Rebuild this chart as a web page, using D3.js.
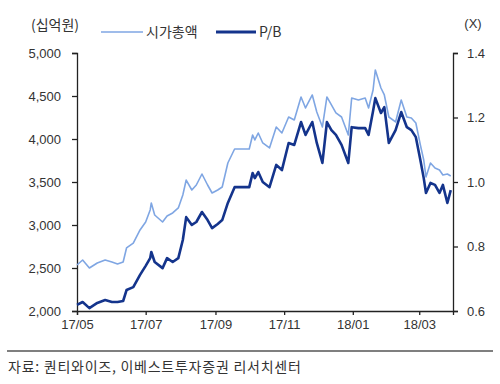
<!DOCTYPE html>
<html>
<head>
<meta charset="utf-8">
<script src="https://cdn.jsdelivr.net/npm/d3@7"></script>
<style>
  body { margin: 0; background: #fff; }
  svg text { fill: #333; }
</style>
</head>
<body>
<div id="chart"></div>
<script>

const canvas = { w: 500, h: 384 };

// data
const dates = [
  "2017-05-01","2017-05-06","2017-05-12","2017-05-19","2017-05-26","2017-06-01","2017-06-06","2017-06-11",
  "2017-06-14","2017-06-20","2017-06-26","2017-07-01","2017-07-05","2017-07-06","2017-07-09","2017-07-16",
  "2017-07-20","2017-07-25","2017-07-30","2017-08-03","2017-08-06","2017-08-11","2017-08-15","2017-08-20",
  "2017-08-25","2017-08-29","2017-09-03","2017-09-07","2017-09-12","2017-09-18","2017-09-24","2017-10-01",
  "2017-10-04","2017-10-06","2017-10-09","2017-10-13","2017-10-19","2017-10-25","2017-10-30","2017-11-05",
  "2017-11-10","2017-11-16","2017-11-20","2017-11-26","2017-11-30","2017-12-05","2017-12-09","2017-12-13",
  "2017-12-17","2017-12-22","2017-12-28","2017-12-31","2018-01-06","2018-01-12","2018-01-15","2018-01-19",
  "2018-01-21","2018-01-26","2018-01-29","2018-02-02","2018-02-08","2018-02-13","2018-02-18","2018-02-22",
  "2018-02-26","2018-03-02","2018-03-05","2018-03-07","2018-03-11","2018-03-15","2018-03-19","2018-03-22",
  "2018-03-26","2018-03-29"
];

const marketCap = [
  2535, 2593, 2500, 2558, 2593, 2570, 2547, 2570,
  2733, 2790, 2942, 3035, 3175, 3256, 3116, 3035,
  3105, 3140, 3198, 3349, 3523, 3407, 3465, 3593,
  3465, 3372, 3407, 3442, 3721, 3884, 3884, 3884,
  4047, 3989, 4070, 3954, 3896, 4140, 4070, 4256,
  4221, 4489, 4361, 4512, 4314, 4140, 4489, 4396,
  4303, 4256, 4047, 4477, 4454, 4477, 4361, 4570,
  4803, 4593, 4512, 4256, 4198, 4454, 4256, 4245,
  4186, 3931, 3756, 3558, 3721, 3663, 3640, 3582,
  3593, 3570
];

const pbRatio = [
  0.619, 0.628, 0.609, 0.625, 0.634, 0.628, 0.628, 0.631,
  0.665, 0.674, 0.712, 0.740, 0.764, 0.783, 0.752, 0.733,
  0.764, 0.752, 0.764, 0.820, 0.891, 0.867, 0.876, 0.907,
  0.882, 0.857, 0.870, 0.882, 0.935, 0.984, 0.984, 0.984,
  1.028, 1.012, 1.031, 1.000, 0.984, 1.053, 1.037, 1.121,
  1.115, 1.186, 1.146, 1.186, 1.121, 1.059, 1.186, 1.161,
  1.146, 1.115, 1.059, 1.170, 1.167, 1.167, 1.146, 1.220,
  1.260, 1.214, 1.232, 1.121, 1.161, 1.217, 1.170, 1.161,
  1.139, 1.068, 1.012, 0.966, 0.997, 0.991, 0.966, 0.991,
  0.935, 0.975
];

const leftTicks = [2000, 2500, 3000, 3500, 4000, 4500, 5000];
const rightTicks = [0.6, 0.8, 1.0, 1.2, 1.4];
const xTicks = ["2017-05-01","2017-07-01","2017-09-01","2017-11-01","2018-01-01","2018-03-01"];

const seriesNames = ["시가총액", "P/B"];
const colors = { cap: "#7fa6e3", pb: "#14348c" };

const parse = d3.timeParse("%Y-%m-%d");
const table = dates.map((d, i) => ({ date: parse(d), cap: marketCap[i], pb: pbRatio[i] }));

const plot = { left: 77, right: 453, top: 53, bottom: 311 };

const x = d3.scaleTime()
    .domain([parse("2017-05-01"), parse("2018-03-31")])
    .range([plot.left, plot.right]);

const yLeft = d3.scaleLinear().domain([2000, 5000]).range([plot.bottom, plot.top]);
const yRight = d3.scaleLinear().domain([0.6, 1.4]).range([plot.bottom, plot.top]);

const svg = d3.select("#chart")
    .append("svg")
    .attr("width", canvas.w)
    .attr("height", canvas.h)
    .attr("viewBox", `0 0 ${canvas.w} ${canvas.h}`);

const tickFont = "'Liberation Sans Narrow', 'Liberation Sans', Arial, sans-serif";
const krFont = "'Noto Sans CJK KR', 'Noto Sans', sans-serif";

// axes
const axLeft = svg.append("g")
    .attr("transform", `translate(${plot.left},0)`)
    .call(d3.axisLeft(yLeft).tickValues(leftTicks).tickSize(5).tickPadding(11).tickFormat(d3.format(",")));

const axRight = svg.append("g")
    .attr("transform", `translate(${plot.right},0)`)
    .call(d3.axisRight(yRight).tickValues(rightTicks).tickSize(5).tickPadding(9).tickFormat(d3.format(".1f")));

const axBottom = svg.append("g")
    .attr("transform", `translate(0,${plot.bottom})`)
    .call(d3.axisBottom(x).tickValues(xTicks.map(parse)).tickSize(4).tickPadding(5).tickFormat(d3.timeFormat("%y/%m")));

[axLeft, axRight, axBottom].forEach(ax => {
    ax.select(".domain").attr("stroke", "#222").attr("stroke-width", 1.3);
    ax.selectAll(".tick line").attr("stroke", "#222").attr("stroke-width", 1.3);
    ax.selectAll(".tick text")
        .attr("font-family", tickFont)
        .attr("font-size", 13)
        .attr("fill", "#333");
});

// lines
const capLine = d3.line().x(d => x(d.date)).y(d => yLeft(d.cap));
const pbLine = d3.line().x(d => x(d.date)).y(d => yRight(d.pb));

svg.append("path")
    .datum(table)
    .attr("fill", "none")
    .attr("stroke", colors.cap)
    .attr("stroke-width", 1.6)
    .attr("stroke-linejoin", "round")
    .attr("d", capLine);

svg.append("path")
    .datum(table)
    .attr("fill", "none")
    .attr("stroke", colors.pb)
    .attr("stroke-width", 2.6)
    .attr("stroke-linejoin", "round")
    .attr("d", pbLine);

// unit labels
svg.append("text")
    .attr("x", 55).attr("y", 30)
    .attr("text-anchor", "middle")
    .attr("font-family", krFont)
    .attr("font-size", 14)
    .text("(십억원)");

svg.append("text")
    .attr("x", 473).attr("y", 28)
    .attr("text-anchor", "middle")
    .attr("font-family", tickFont)
    .attr("font-size", 13)
    .text("(X)");

// legend
const legend = [
    { name: seriesNames[0], color: colors.cap, width: 1.6, x0: 101, x1: 143 },
    { name: seriesNames[1], color: colors.pb, width: 3, x0: 216, x1: 256 }
];

const lg = svg.append("g").selectAll("g")
    .data(legend)
    .enter()
    .append("g");

lg.append("line")
    .attr("x1", d => d.x0).attr("x2", d => d.x1)
    .attr("y1", 32).attr("y2", 32)
    .attr("stroke", d => d.color)
    .attr("stroke-width", d => d.width);

lg.append("text")
    .attr("x", d => d.x1 + 3).attr("y", 37)
    .attr("font-family", krFont)
    .attr("font-size", 14)
    .attr("fill", "#333")
    .text(d => d.name);

// bottom rule and source
svg.append("line")
    .attr("x1", 7).attr("x2", 493)
    .attr("y1", 351).attr("y2", 351)
    .attr("stroke", "#555")
    .attr("stroke-width", 1.6);

svg.append("text")
    .attr("x", 8).attr("y", 372)
    .attr("font-family", krFont)
    .attr("font-size", 14)
    .attr("letter-spacing", 0.75)
    .attr("fill", "#333")
    .text("자료: 퀀티와이즈, 이베스트투자증권 리서치센터");

</script>
</body>
</html>
